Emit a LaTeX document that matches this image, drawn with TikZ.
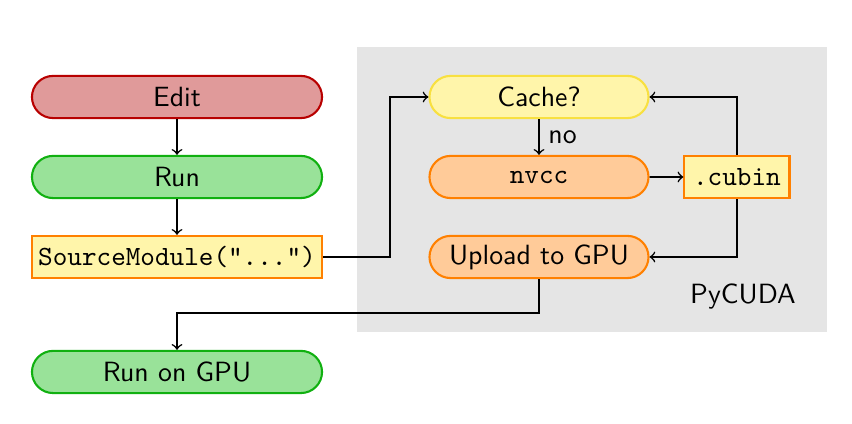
\documentclass[tikz,border=0pt]{standalone}
\usetikzlibrary{shapes.misc}
\definecolor{editfill}{HTML}{E09A9A}
\definecolor{editline}{HTML}{B80000}
\definecolor{runfill}{HTML}{99E299}
\definecolor{runline}{HTML}{10B010}
\definecolor{compfill}{HTML}{FFCB99}
\definecolor{compline}{HTML}{FF8000}
\definecolor{cachefill}{HTML}{FFF5AA}
\definecolor{cacheline}{HTML}{F8E040}
\newcommand\picsize{\fontsize{10.7}{13}\selectfont}
\tikzset{
  stage/.style={rounded rectangle,thick,minimum width=3.92cm,minimum height=0.57cm,inner sep=0pt},
  pystage/.style={stage,minimum width=2.96cm},
  codebox/.style={rectangle,thick,draw=compline,fill=cachefill,minimum height=0.57cm,inner sep=2pt,font=\picsize\ttfamily},
  flow/.style={->,semithick}
}
\begin{document}
\begin{tikzpicture}[font=\picsize\sffamily]
 \useasboundingbox (0,0) rectangle (11.514,5.730);
 \fill[black!10] (4.824,1.243) rectangle (11.176,5.095);
 \node at (10.04,1.716) {PyCUDA};
 % left column
 \node[stage,draw=editline,fill=editfill] (edit) at (2.392,4.419) {Edit};
 \node[stage,draw=runline,fill=runfill] (run) at (2.392,3.338) {Run};
 \node[codebox,minimum width=3.92cm] (src) at (2.392,2.257) {SourceModule("...")};
 \node[stage,draw=runline,fill=runfill] (gpurun) at (2.392,0.703) {Run on GPU};
 % inside pycuda
 \node[pystage,draw=cacheline,fill=cachefill] (cache) at (7.284,4.419) {Cache?};
 \node[pystage,draw=compline,fill=compfill,font=\picsize\ttfamily] (nvcc) at (7.284,3.338) {nvcc};
 \node[pystage,draw=compline,fill=compfill] (upload) at (7.284,2.257) {Upload to GPU};
 \node[codebox,minimum width=1.42cm] (cubin) at (9.959,3.338) {.cubin};
 % connectors
 \draw[flow] (edit) -- (run);
 \draw[flow] (run) -- (src);
 \draw[flow] (src.east) -- (5.27,2.257) |- (cache.west);
 \draw[flow] (cache) -- node[right] {no} (nvcc);
 \draw[flow] (nvcc) -- (cubin);
 \draw[flow] (cubin.north) |- (cache.east);
 \draw[flow] (cubin.south) |- (upload.east);
 \draw[flow] (upload.south) -- (7.284,1.5) -| (gpurun.north);
\end{tikzpicture}
\end{document}
